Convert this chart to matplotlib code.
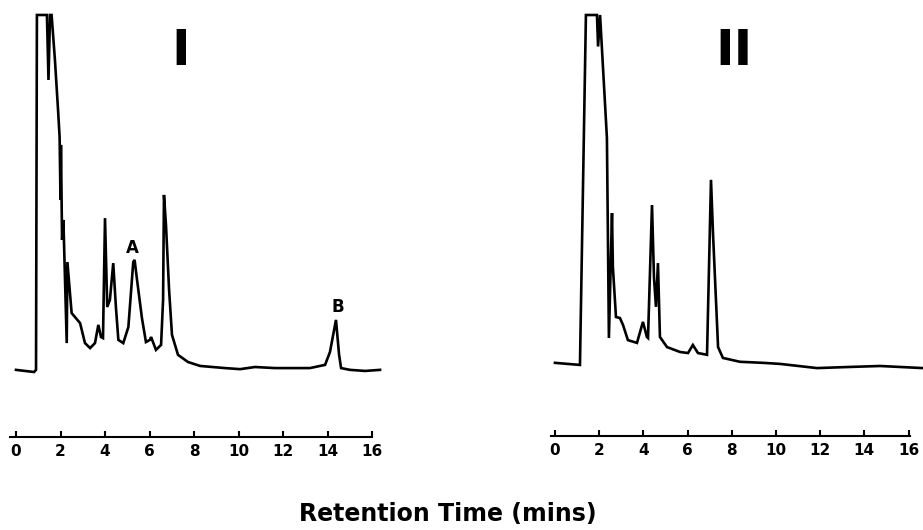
import numpy as np
import matplotlib.pyplot as plt

# chromatogram I (response in % of full scale, top is detector clipping)
time_1 = [0.00, 0.81, 0.90, 0.94, 1.39, 1.46, 1.53, 1.60, 1.75, 1.89, 1.96, 2.00,
          2.02, 2.07, 2.13, 2.28, 2.31, 2.50, 2.65, 2.88, 3.10, 3.33, 3.55, 3.70,
          3.82, 3.91, 4.00, 4.10, 4.22, 4.37, 4.49, 4.60, 4.82, 5.05, 5.27, 5.33,
          5.44, 5.66, 5.84, 6.02, 6.07, 6.29, 6.52, 6.61, 6.65, 6.74, 6.88, 7.01,
          7.28, 7.73, 8.27, 9.39, 10.07, 10.74, 11.64, 13.21, 13.89, 14.11, 14.38,
          14.52, 14.61, 15.01, 15.69, 16.36]
resp_1 = [0.6, 0.0, 0.6, 100, 100, 81.8, 100, 100, 87.4, 73.4, 65.8, 48.2,
          63.6, 37.0, 42.6, 8.1, 30.8, 16.5, 15.4, 13.7, 8.1, 6.7, 8.1, 13.2,
          9.8, 9.5, 43.1, 18.2, 20.2, 30.5, 18.2, 9.0, 8.1, 12.6, 30.8, 31.4,
          25.8, 15.1, 8.4, 9.0, 9.8, 6.2, 7.6, 20.2, 49.6, 41.2, 23.0, 10.4,
          4.8, 2.8, 1.7, 1.1, 0.8, 1.4, 1.1, 1.1, 2.0, 5.6, 14.6,
          4.8, 1.1, 0.6, 0.3, 0.6]

# chromatogram II
time_2 = [0.00, 1.13, 1.40, 1.90, 1.95, 2.04, 2.35, 2.40, 2.44, 2.58, 2.62, 2.76,
          2.94, 3.08, 3.30, 3.71, 3.98, 4.16, 4.21, 4.39, 4.48, 4.57, 4.66, 4.75,
          5.07, 5.66, 6.02, 6.24, 6.47, 6.88, 7.06, 7.15, 7.38, 7.60, 8.37, 9.41,
          10.18, 11.86, 13.21, 14.71, 16.65]
resp_2 = [0.6, 0.0, 100, 100, 91, 100, 64.9, 33.7, 7.7, 43.4, 28.0, 13.7,
          13.4, 11.4, 7.1, 6.3, 12.3, 8.0, 7.7, 45.7, 25.0, 16.6, 29.1, 8.0,
          5.1, 3.7, 3.4, 5.7, 3.4, 2.9, 52.9, 37.7, 5.1, 2.0, 0.9, 0.6,
          0.3, -0.9, -0.6, -0.3, -0.9]

ticks = [0, 2, 4, 6, 8, 10, 12, 14, 16]

fig = plt.figure(figsize=(9.23, 5.30), dpi=100)
ax1 = fig.add_axes([0.0101, 0.1755, 0.4026, 0.7996])
ax2 = fig.add_axes([0.5941, 0.1774, 0.4058, 0.7976])

for ax, t, r, xl, yl, bnd in [(ax1, time_1, resp_1, (-0.3, 16.4), (-18.2, 100.5), (-0.27, 16.0)),
                              (ax2, time_2, resp_2, (-0.3, 16.65), (-20.3, 100.5), (-0.2, 16.05))]:
    ax.plot(t, r, color='black', lw=1.9, solid_joinstyle='miter', clip_on=False)
    ax.set_xlim(*xl)
    ax.set_ylim(*yl)
    for s in ['top', 'right', 'left']:
        ax.spines[s].set_visible(False)
    ax.spines['bottom'].set_linewidth(1.5)
    ax.spines['bottom'].set_bounds(*bnd)
    ax.set_yticks([])
    ax.set_xticks(ticks)
    ax.tick_params(axis='x', direction='in', length=4, width=1.5, pad=5)
    for lab in ax.get_xticklabels():
        lab.set_fontweight('bold')
        lab.set_fontsize(11)

ax1.text(7.39, 89.8, 'I', fontsize=36, fontweight='bold', ha='center', va='center')
ax2.text(8.08, 89.6, 'II', fontsize=36, fontweight='bold', ha='center', va='center')
ax1.text(5.24, 34.6, 'A', fontsize=12, fontweight='bold', ha='center', va='center')
ax1.text(14.45, 18.3, 'B', fontsize=12, fontweight='bold', ha='center', va='center')

fig.text(0.485, 0.030, 'Retention Time (mins)', fontsize=17, fontweight='bold',
         ha='center', va='center')

plt.savefig('out.png', dpi=100)
